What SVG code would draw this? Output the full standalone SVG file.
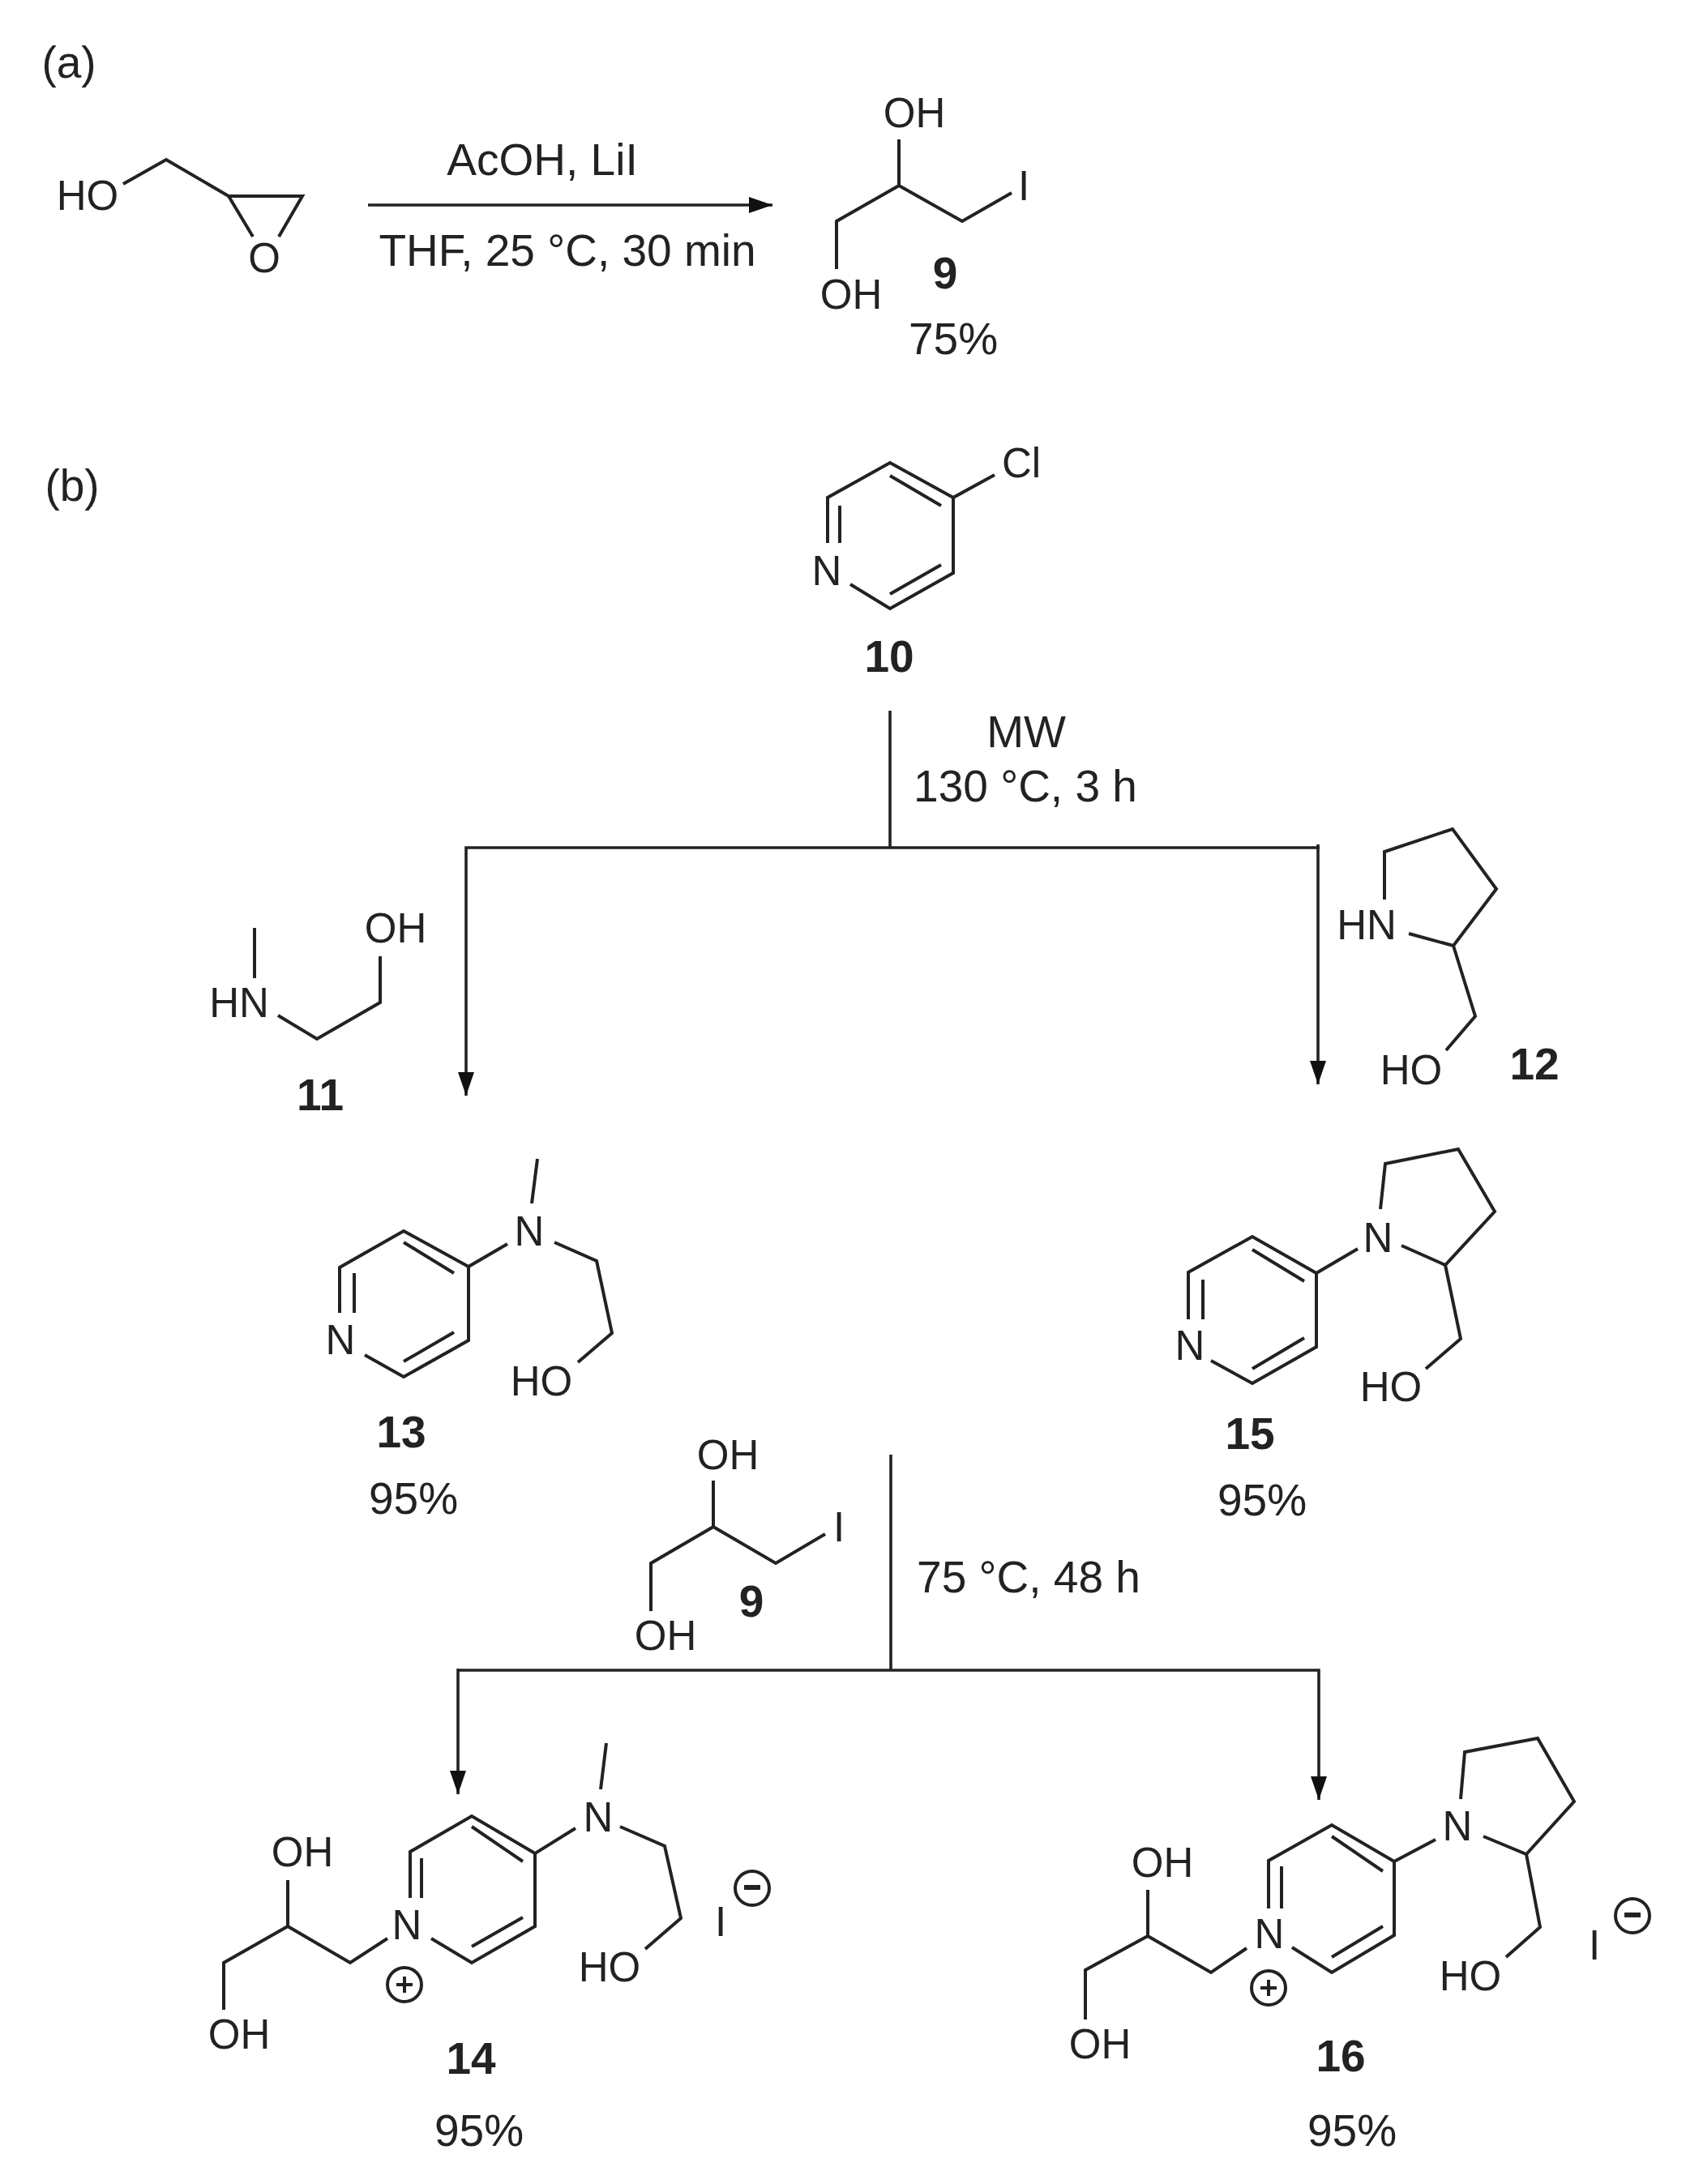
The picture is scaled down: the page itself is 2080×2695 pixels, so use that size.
<svg xmlns="http://www.w3.org/2000/svg" width="2080" height="2695" viewBox="0 0 2080 2695">
<style>
text{font-family:"Liberation Sans",Arial,sans-serif;fill:#222;text-anchor:middle}
.a{font-size:51px}
.r{font-size:55px}
.c{font-size:55px;font-weight:bold}
.b{fill:none;stroke:#222;stroke-width:4;stroke-linejoin:miter;stroke-linecap:butt}
.w{fill:none;stroke:#222;stroke-width:3.6}
</style>
<defs>
<marker id="ah" markerUnits="userSpaceOnUse" markerWidth="30" markerHeight="22" refX="29" refY="10" orient="auto"><path d="M0 0L29 10L0 20Z" fill="#111"/></marker>
</defs>
<rect width="2080" height="2695" fill="#fff"/>
<text class="r" x="85" y="96">(a)</text>
<text class="r" x="89" y="618">(b)</text>
<g id="connectors">
<path class="w" d="M454 253H953" marker-end="url(#ah)"/>
<path class="w" d="M1098 877V1046"/>
<path class="w" d="M1628 1046H575V1352" marker-end="url(#ah)"/>
<path class="w" d="M1626 1042V1338" marker-end="url(#ah)"/>
<path class="w" d="M1099 1795V2061"/>
<path class="w" d="M565 2061H1627V2221" marker-end="url(#ah)"/>
<path class="w" d="M565 2059V2214" marker-end="url(#ah)"/>
</g>
<g id="reagents">
<text class="r" x="669" y="216">AcOH, LiI</text>
<text class="r" x="700" y="328">THF, 25 °C, 30 min</text>
<text class="r" x="1266" y="922">MW</text>
<text class="r" x="1265" y="989">130 °C, 3 h</text>
<text class="r" x="1269" y="1965">75 °C, 48 h</text>
</g>
<g id="glycidol">
<path class="b" d="M152 227L205 197L282 242H373L344 292M282 242L312 292"/>
<text class="a" x="108" y="259">HO</text>
<text class="a" x="326" y="336">O</text>
</g>
<g id="n9">
<path class="b" d="M1109 172V229L1032 273V332M1109 229L1187 273L1248 238"/>
<text class="a" x="1128" y="157">OH</text>
<text class="a" x="1050" y="381">OH</text>
<text class="a" x="1263" y="247">I</text>
<text class="c" x="1166" y="356">9</text>
<text class="r" x="1176" y="437">75%</text>
</g>
<g id="n10">
<path class="b" d="M1227 586L1176 614V707L1098 751L1049 721M1176 614L1098 571L1021 614V670M1036 624V670M1098 587L1161 624M1098 733L1161 697"/>
<text class="a" x="1260" y="589">Cl</text>
<text class="a" x="1020" y="722">N</text>
<text class="c" x="1097" y="829">10</text>
</g>
<g id="n11">
<path class="b" d="M314 1145V1207M343 1253L391 1282L469 1237V1180"/>
<text class="a" x="295" y="1255">HN</text>
<text class="a" x="488" y="1163">OH</text>
<text class="c" x="395" y="1370">11</text>
</g>
<g id="n12">
<path class="b" d="M1708 1110V1051L1792 1023L1846 1097L1793 1167L1738 1152M1793 1167L1820 1254L1784 1296"/>
<text class="a" x="1686" y="1159">HN</text>
<text class="a" x="1741" y="1338">HO</text>
<text class="c" x="1893" y="1332">12</text>
</g>
<g id="n13">
<path class="b" d="M663 1430L656 1485M626 1535L578 1563V1654L498 1699L450 1672M578 1563L498 1519L419 1564V1620M437 1571V1620M498 1533L560 1571M498 1680L560 1644M684 1533L736 1556L755 1645L713 1681"/>
<text class="a" x="653" y="1537">N</text>
<text class="a" x="420" y="1671">N</text>
<text class="a" x="668" y="1722">HO</text>
<text class="c" x="495" y="1786">13</text>
<text class="r" x="510" y="1868">95%</text>
</g>
<g id="n15">
<path class="b" d="M1703 1492L1709 1436L1799 1418L1844 1495L1783 1561L1729 1537M1783 1561L1802 1652L1759 1689M1675 1541L1624 1571V1662L1545 1707L1494 1679M1624 1571L1545 1526L1466 1570V1628M1484 1579V1628M1545 1542L1609 1581M1545 1689L1609 1651"/>
<text class="a" x="1700" y="1545">N</text>
<text class="a" x="1468" y="1678">N</text>
<text class="a" x="1716" y="1729">HO</text>
<text class="c" x="1542" y="1788">15</text>
<text class="r" x="1557" y="1870">95%</text>
</g>
<g id="n9b">
<path class="b" d="M880 1827V1884L803 1929V1988M880 1884L957 1929L1018 1893"/>
<text class="a" x="898" y="1813">OH</text>
<text class="a" x="821" y="2036">OH</text>
<text class="a" x="1035" y="1902">I</text>
<text class="c" x="927" y="1995">9</text>
</g>
<g id="n14">
<path class="b" d="M748 2151L741 2208M710 2256L660 2287V2377L582 2422L532 2392M660 2287L582 2241L506 2285V2342M520 2293V2342M582 2254L645 2297M582 2402L645 2366M765 2254L820 2278L840 2367L796 2405M478 2392L432 2422L355 2377V2320M355 2377L276 2422V2480"/>
<text class="a" x="738" y="2260">N</text>
<text class="a" x="502" y="2393">N</text>
<text class="a" x="752" y="2445">HO</text>
<text class="a" x="373" y="2303">OH</text>
<text class="a" x="295" y="2528">OH</text>
<text class="a" x="889" y="2389">I</text>
<circle class="b" cx="928" cy="2330" r="21"/>
<path class="b" style="stroke-width:6" d="M918 2329H938"/>
<circle class="b" cx="499" cy="2449" r="21"/>
<path class="b" d="M489 2449H509M499 2439V2459"/>
<text class="c" x="581" y="2559">14</text>
<text class="r" x="591" y="2648">95%</text>
</g>
<g id="n16">
<path class="b" d="M1802 2220L1807 2162L1897 2145L1942 2223L1883 2288L1830 2266M1883 2288L1900 2378L1858 2415M1771 2270L1720 2297V2388L1643 2434L1594 2403M1720 2297L1643 2252L1565 2296V2355M1581 2303V2355M1643 2266L1706 2309M1643 2415L1706 2377M1538 2404L1494 2434L1416 2389V2332M1416 2389L1339 2431V2492"/>
<text class="a" x="1798" y="2271">N</text>
<text class="a" x="1566" y="2404">N</text>
<text class="a" x="1814" y="2456">HO</text>
<text class="a" x="1434" y="2316">OH</text>
<text class="a" x="1357" y="2540">OH</text>
<text class="a" x="1967" y="2418">I</text>
<circle class="b" cx="2014" cy="2364" r="21"/>
<path class="b" style="stroke-width:6" d="M2004 2363H2024"/>
<circle class="b" cx="1565" cy="2453" r="21"/>
<path class="b" d="M1555 2453H1575M1565 2443V2463"/>
<text class="c" x="1654" y="2556">16</text>
<text class="r" x="1668" y="2648">95%</text>
</g>
</svg>
